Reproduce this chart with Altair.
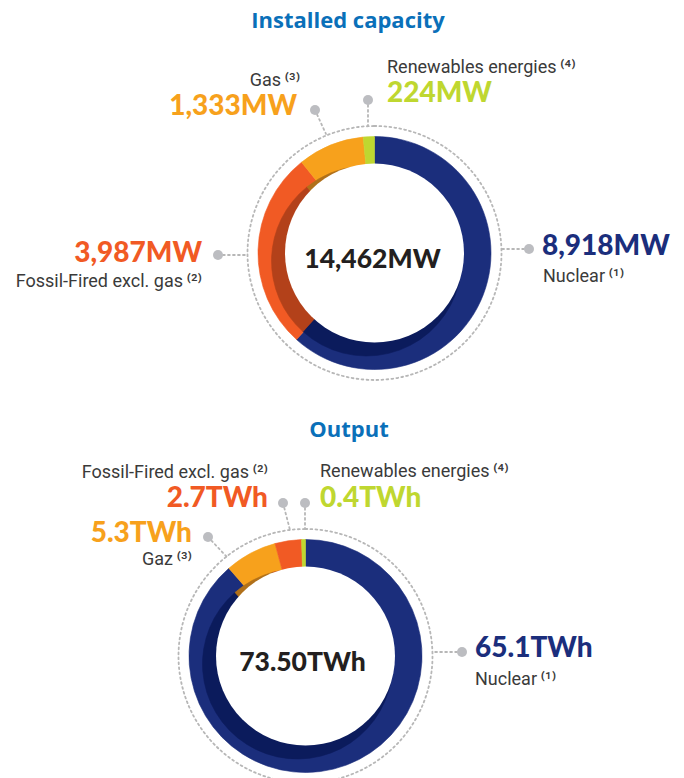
import math
import altair as alt
import pandas as pd

# ---------------- data ----------------
cap_title = "Installed capacity"
cap_names = ["Nuclear", "Fossil-Fired excl. gas", "Gas", "Renewables energies"]
cap_notes = ["1", "2", "3", "4"]
cap_keys = ["nuclear", "fossil", "gas", "renew"]
cap_values = [8918, 3987, 1333, 224]

out_title = "Output"
out_names = ["Nuclear", "Gaz", "Fossil-Fired excl. gas", "Renewables energies"]
out_notes = ["1", "3", "2", "4"]
out_keys = ["nuclear", "gas", "fossil", "renew"]
out_values = [65.1, 5.3, 2.7, 0.4]

# ---------------- styles ----------------
MAIN = {"nuclear": "#1b2e7c", "fossil": "#f15a24", "gas": "#f7a11c", "renew": "#bfd730"}
SHADOW = {"nuclear": "#0b1b5c", "fossil": "#b3411a", "gas": "#b0701a", "renew": "#8ca222"}
TITLE_COLOR = "#0a70b9"
NAME_COLOR = "#3a3a3a"
TOTAL_COLOR = "#231f20"
GRAY = "#bcbdc1"
NAME_FONT = "Roboto"
NUM_FONT = "Lato"
TITLE_FONT = "Open Sans"
SUP = {"1": "\u207d\u00b9\u207e", "2": "\u207d\u00b2\u207e", "3": "\u207d\u00b3\u207e", "4": "\u207d\u2074\u207e"}
W, H = 668, 770

# layout (pixel positions inside the view); bottom donut is offset by 400 px
cap_layout = {
    "dy": 0, "center": (366.5, 245), "title": (340, 20), "total": (364.5, 260),
    "nuclear": dict(dot=(521, 241), end=(494, 241), val=(534, 247), name=(535, 274), align="left"),
    "fossil": dict(dot=(210, 247), end=(239, 247), val=(194, 254), name=(194, 279), align="right"),
    "gas": dict(dot=(307, 102), end=(318, 126), val=(289, 107), name=(292, 78), align="right"),
    "renew": dict(dot=(360, 92), end=(360, 118), val=(379, 94), name=(379, 65), align="left"),
}
out_layout = {
    "dy": 400, "center": (297.5, 248), "title": (341, 29), "total": (294.5, 263),
    "nuclear": dict(dot=(454, 244), end=(424.5, 244), val=(467, 249), name=(467, 277), align="left"),
    "gas": dict(dot=(200, 129), end=(218.7, 148.7), val=(184, 134), name=(184, 157), align="right"),
    "fossil": dict(dot=(275, 95), end=(282, 122), val=(260, 99), name=(260, 70), align="right"),
    "renew": dict(dot=(297, 95), end=(297, 121), val=(312, 99), name=(312, 69), align="left"),
}


def panel(title, names, notes, keys, values, fmt, total_fmt, layout):
    off = layout["dy"]
    cx, cy = layout["center"]
    cy += off
    df = pd.DataFrame({
        "name": [f"{n}\u2009{SUP[s]}" for n, s in zip(names, notes)],
        "key": keys, "value": values,
        "order": list(range(len(values))),
        "main": [MAIN[k] for k in keys], "shadow": [SHADOW[k] for k in keys],
        "label": [fmt(v) for v in values],
    })
    lay = pd.DataFrame([
        dict(key=k,
             dx=layout[k]["dot"][0], dy=layout[k]["dot"][1] + off,
             ex=layout[k]["end"][0], ey=layout[k]["end"][1] + off,
             vx=layout[k]["val"][0], vy=layout[k]["val"][1] + off,
             nx=layout[k]["name"][0], ny=layout[k]["name"][1] + off,
             align=layout[k]["align"])
        for k in keys
    ])
    full = df.merge(lay, on="key")
    one = pd.DataFrame({"title": [title], "total": [total_fmt(sum(values))]})

    base = alt.Chart(df)
    ring = base.mark_arc(radius=116.5, innerRadius=84, strokeWidth=0.6).encode(
        theta=alt.Theta("value:Q", stack=True),
        order=alt.Order("order:Q"),
        color=alt.Color("main:N", scale=None),
        stroke=alt.Stroke("main:N", scale=None),
        x=alt.value(cx), y=alt.value(cy),
    )
    shadow = base.mark_arc(radius=95, innerRadius=0, strokeWidth=0.6).encode(
        theta=alt.Theta("value:Q", stack=True),
        order=alt.Order("order:Q"),
        color=alt.Color("shadow:N", scale=None),
        stroke=alt.Stroke("shadow:N", scale=None),
        x=alt.value(cx - 8), y=alt.value(cy + 8),
    )
    hole = alt.Chart(one).mark_arc(radius=89.5, theta=0, theta2=2 * math.pi, color="white").encode(
        x=alt.value(cx), y=alt.value(cy))
    dotted = alt.Chart(one).mark_arc(
        radius=127, theta=0, theta2=2 * math.pi, filled=False, color="#b7b7b7",
        strokeWidth=1.8, strokeDash=[1.8, 3.2], strokeCap="round").encode(
        x=alt.value(cx), y=alt.value(cy))

    fc = alt.Chart(full)
    leaders = fc.mark_rule(color="#b7b7b7", strokeWidth=1.8, strokeDash=[1.8, 3.2], strokeCap="round").encode(
        x=alt.X("dx:Q", scale=None), y=alt.Y("dy:Q", scale=None),
        x2="ex:Q", y2="ey:Q")
    dots = fc.mark_point(filled=True, shape="circle", size=100, opacity=1, color=GRAY).encode(
        x=alt.X("dx:Q", scale=None), y=alt.Y("dy:Q", scale=None))

    layers = [ring, shadow, hole, dotted, leaders, dots]
    for al in ["left", "right"]:
        sub = fc.transform_filter(alt.datum.align == al)
        layers.append(sub.mark_text(align=al, baseline="alphabetic", font=NUM_FONT, fontWeight=900,
                                    fontSize=28).encode(
            x=alt.X("vx:Q", scale=None), y=alt.Y("vy:Q", scale=None), text="label:N",
            color=alt.Color("main:N", scale=None)))
        layers.append(sub.mark_text(align=al, baseline="alphabetic", font=NAME_FONT,
                                    fontSize=18, color=NAME_COLOR).encode(
            x=alt.X("nx:Q", scale=None), y=alt.Y("ny:Q", scale=None), text="name:N"))

    tx, ty = layout["title"]
    layers.append(alt.Chart(one).mark_text(align="center", baseline="alphabetic", font=TITLE_FONT,
                                           fontWeight="bold", fontSize=22, color=TITLE_COLOR).encode(
        x=alt.value(tx), y=alt.value(ty + off), text="title:N"))
    ox, oy = layout["total"]
    layers.append(alt.Chart(one).mark_text(align="center", baseline="alphabetic", font=NUM_FONT,
                                           fontWeight=900, fontSize=26.5, color=TOTAL_COLOR).encode(
        x=alt.value(ox), y=alt.value(oy + off), text="total:N"))
    return layers


top_layers = panel(cap_title, cap_names, cap_notes, cap_keys, cap_values,
                   lambda v: f"{v:,}MW", lambda s: f"{s:,}MW", cap_layout)
bottom_layers = panel(out_title, out_names, out_notes, out_keys, out_values,
                      lambda v: f"{v:.1f}TWh", lambda s: f"{s:.2f}TWh", out_layout)

chart = alt.layer(*top_layers, *bottom_layers).resolve_scale(theta="independent").properties(
    width=W, height=H, padding=0, autosize=alt.AutoSizeParams(type="none")
).configure_view(stroke=None)

chart.save("out.html", embed_options={"renderer": "svg", "actions": False})
